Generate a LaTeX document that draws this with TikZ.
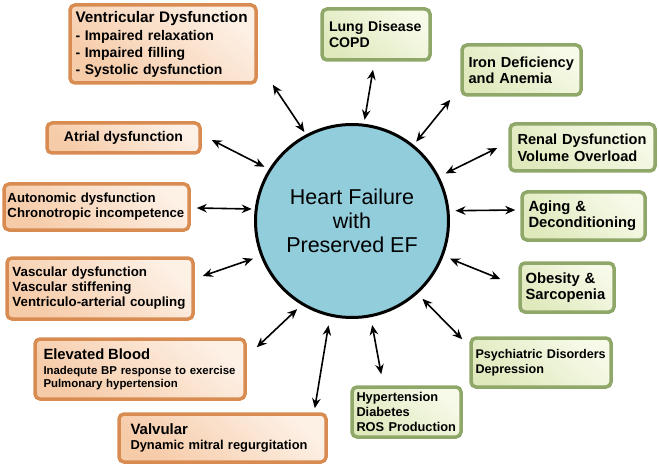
\documentclass[tikz,border=0pt]{standalone}
\usepackage{fontspec}
\setmainfont{Liberation Sans}
\usetikzlibrary{arrows.meta}
\usetikzlibrary{calc}
\definecolor{hfblue}{HTML}{92CDDC}
\definecolor{oline}{HTML}{D98C52}
\definecolor{otop}{HTML}{FDF0E5}
\definecolor{obottom}{HTML}{F6CBA8}
\definecolor{gline}{HTML}{8FA769}
\definecolor{gtop}{HTML}{F7FAE9}
\definecolor{gbottom}{HTML}{DFE9BC}

\begin{document}
\begin{tikzpicture}[x=1pt,y=-1pt,
    obox/.style={rectangle,draw=oline,line width=3.5pt,rounded corners=5pt,top color=otop,bottom color=obottom,shading angle=-40,align=left,inner ysep=0pt,font=\bfseries},
    gbox/.style={rectangle,draw=gline,line width=3.5pt,rounded corners=5pt,top color=gtop,bottom color=gbottom,shading angle=-40,align=left,inner ysep=0pt,font=\bfseries},
    hfnode/.style={circle,draw=black,line width=3pt,fill=hfblue,minimum size=193pt,inner sep=0pt,align=center,font=\fontsize{21.5}{24}\selectfont},
    dbl/.style={{Stealth[length=10pt,width=8.5pt]}-{Stealth[length=10pt,width=8.5pt]},line width=1.6pt}]
    \useasboundingbox (0,0) rectangle (659,468);
    %
    \node[hfnode] (hf) at (352,221) {Heart Failure\\with\\Preserved EF};
    %
    % left side
    \node[obox,minimum width=186pt,minimum height=78pt,inner xsep=5.5pt,text width=175pt,font=\bfseries\fontsize{14}{17}\selectfont] (vd) at (163,44)
      {{\fontsize{15.3}{18}\selectfont Ventricular Dysfunction}\\[1pt] - Impaired relaxation\\ - Impaired filling\\ - Systolic dysfunction};
    \node[obox,minimum width=153pt,minimum height=30pt,align=center,font=\bfseries\fontsize{14}{16}\selectfont] (ad) at (123.5,138) {Atrial dysfunction};
    \node[obox,minimum width=185pt,minimum height=46pt,inner xsep=3.5pt,text width=178pt,font=\bfseries\fontsize{13.2}{15}\selectfont] (an) at (96.5,207)
      {Autonomic dysfunction\\Chronotropic incompetence};
    \node[obox,minimum width=186pt,minimum height=61pt,inner xsep=5.5pt,text width=175pt,font=\bfseries\fontsize{13.3}{15}\selectfont] (vs) at (100,288.5)
      {Vascular dysfunction\\Vascular stiffening\\Ventriculo-arterial coupling};
    \node[obox,minimum width=210pt,minimum height=60pt,inner xsep=8.5pt,text width=193pt,font=\bfseries\fontsize{11.4}{12.5}\selectfont] (eb) at (140,369)
      {{\fontsize{14.8}{17}\selectfont Elevated Blood}\\[3pt]Inadequte BP response to exercise\\Pulmonary hypertension};
    \node[obox,minimum width=207pt,minimum height=48pt,inner xsep=11.5pt,text width=184pt,font=\bfseries\fontsize{12.9}{15.5}\selectfont] (vv) at (222.5,438)
      {{\fontsize{15}{17}\selectfont Valvular}\\Dynamic mitral regurgitation};
    %
    % right side
    \node[gbox,minimum width=108pt,minimum height=51pt,inner xsep=7pt,text width=94pt,font=\bfseries\fontsize{14.1}{16.7}\selectfont] (ld) at (376,34.5)
      {Lung Disease\\COPD};
    \node[gbox,minimum width=119pt,minimum height=50pt,inner xsep=6.5pt,text width=106pt,font=\bfseries\fontsize{14.6}{16}\selectfont] (ir) at (521.5,70)
      {Iron Deficiency\\and Anemia};
    \node[gbox,minimum width=145pt,minimum height=47pt,inner xsep=7.5pt,text width=130pt,font=\bfseries\fontsize{14.6}{16.7}\selectfont] (rd) at (582.5,147.5)
      {Renal Dysfunction\\Volume Overload};
    \node[gbox,minimum width=123pt,minimum height=48pt,inner xsep=6.5pt,text width=110pt,font=\bfseries\fontsize{14.8}{16}\selectfont] (ag) at (583.5,216)
      {Aging \&\\Deconditioning};
    \node[gbox,minimum width=94pt,minimum height=49pt,inner xsep=5.5pt,text width=83pt,font=\bfseries\fontsize{14.8}{16.5}\selectfont] (ob) at (567,287.5)
      {Obesity \&\\Sarcopenia};
    \node[gbox,minimum width=140pt,minimum height=49pt,inner xsep=4.5pt,text width=131pt,font=\bfseries\fontsize{12.6}{14.7}\selectfont] (ps) at (541,362.5)
      {Psychiatric Disorders\\Depression};
    \node[gbox,minimum width=109pt,minimum height=50pt,inner xsep=4.5pt,text width=100pt,font=\bfseries\fontsize{12.8}{15}\selectfont] (hy) at (406.5,412)
      {Hypertension\\Diabetes\\ROS Production};
    %
    \begin{scope}[every path/.style={dbl}]
        \draw[shorten <=3pt] (hf.118) -- ($(vd.south east)+(15,0)$);
        \draw[shorten <=5pt] (hf.148) -- ($(ad.east)+(10,2)$);
        \draw[shorten <=3pt] (hf.173) -- ($(an.east)+(6,1)$);
        \draw[shorten <=8pt] (hf.201) -- ($(vs.east)+(8,-12.5)$);
        \draw[shorten <=6pt] (hf.239) -- ($(eb.north east)+(10,10)$);
        \draw[shorten <=9pt] (hf.257) -- ($(vv.north east)+(-13,-4)$);
        \draw[shorten <=4pt] (hf.83) -- ($(ld.south)+(-3,8)$);
        \draw[shorten <=4pt] (hf.51) -- ($(ir.south west)+(-10,3)$);
        \draw[shorten <=7pt] (hf.27) -- ($(rd.west)+(-11,0.5)$);
        \draw[shorten <=6pt] (hf.6) -- ($(ag.west)+(-5,-6)$);
        \draw[shorten <=7pt] (hf.339) -- ($(ob.west)+(-18,-8.5)$);
        \draw[shorten <=7pt] (hf.312) -- ($(ps.north west)+(-7,3)$);
        \draw[shorten <=8pt] (hf.281) -- ($(hy.north west)+(31,-11)$);
    \end{scope}
\end{tikzpicture}
\end{document}
